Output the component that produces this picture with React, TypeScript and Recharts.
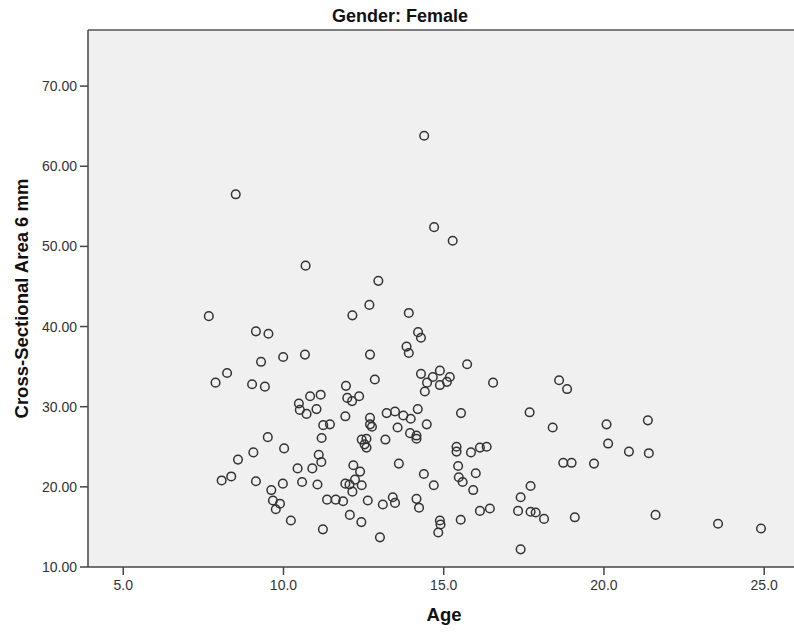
import React from "react";
import {
  ScatterChart,
  Scatter,
  XAxis,
  YAxis,
  CartesianGrid,
  ReferenceLine,
  Label,
} from "recharts";

// values
const ages = [
  8.51, 14.39, 14.7, 15.28, 10.69, 12.96, 7.67, 12.15, 12.68, 13.91,
  9.14, 9.53, 14.2, 14.29, 13.84, 13.91, 9.3, 9.99, 10.67, 12.7,
  15.73, 8.24, 7.88, 9.02, 9.42, 12.85, 11.95, 14.29, 14.66, 14.88,
  15.19, 15.1, 14.88, 14.48, 14.41, 16.54, 18.6, 18.85, 10.83, 11.16,
  11.99, 12.14, 12.36, 10.48, 10.51, 10.72, 11.03, 11.93, 12.7, 12.7,
  12.76, 13.22, 13.48, 11.24, 11.45, 13.74, 13.97, 14.19, 15.54, 17.68,
  14.47, 18.4, 13.56, 13.95, 14.15, 14.15, 9.51, 10.02, 9.06, 8.58,
  11.19, 12.44, 12.59, 12.53, 12.59, 13.18, 13.6, 11.1, 11.18, 10.44,
  10.9, 12.18, 12.39, 12.23, 11.93, 12.06, 12.44, 12.15, 8.07, 8.37,
  9.14, 9.98, 10.58, 11.06, 9.62, 9.67, 9.89, 9.76, 11.36, 11.63,
  11.86, 12.63, 13.1, 13.41, 13.48, 10.23, 12.07, 12.43, 11.23, 13.01,
  15.4, 15.4, 15.85, 16.13, 16.34, 15.45, 18.73, 18.99, 19.69, 14.38,
  14.69, 16.0, 15.47, 15.59, 15.92, 17.71, 17.4, 14.15, 14.23, 16.13,
  16.44, 17.32, 17.71, 17.87, 18.13, 19.09, 14.88, 14.9, 14.83, 15.53,
  17.4, 20.08, 21.37, 20.13, 20.78, 21.4, 21.61, 23.56, 24.9,
];

const areas = [
  56.5, 63.8, 52.4, 50.7, 47.6, 45.7, 41.3, 41.4, 42.7, 41.7,
  39.4, 39.1, 39.3, 38.6, 37.5, 36.7, 35.6, 36.2, 36.5, 36.5,
  35.3, 34.2, 33.0, 32.8, 32.5, 33.4, 32.6, 34.1, 33.7, 34.5,
  33.7, 33.1, 32.7, 33.0, 31.9, 33.0, 33.3, 32.2, 31.3, 31.5,
  31.1, 30.7, 31.3, 30.4, 29.6, 29.1, 29.7, 28.8, 28.6, 27.8,
  27.5, 29.2, 29.4, 27.7, 27.8, 28.9, 28.5, 29.7, 29.2, 29.3,
  27.8, 27.4, 27.4, 26.7, 26.4, 26.0, 26.2, 24.8, 24.3, 23.4,
  26.1, 25.9, 26.0, 25.3, 24.9, 25.9, 22.9, 24.0, 23.1, 22.3,
  22.3, 22.7, 21.9, 20.9, 20.4, 20.3, 20.2, 19.4, 20.8, 21.3,
  20.7, 20.4, 20.6, 20.3, 19.6, 18.3, 17.9, 17.2, 18.4, 18.4,
  18.2, 18.3, 17.8, 18.7, 18.0, 15.8, 16.5, 15.6, 14.7, 13.7,
  25.0, 24.4, 24.3, 24.9, 25.0, 22.6, 23.0, 23.0, 22.9, 21.6,
  20.2, 21.7, 21.2, 20.6, 19.6, 20.1, 18.7, 18.5, 17.4, 17.0,
  17.3, 17.0, 16.9, 16.8, 16.0, 16.2, 15.8, 15.3, 14.3, 15.9,
  12.2, 27.8, 28.3, 25.4, 24.4, 24.2, 16.5, 15.4, 14.8,
];

const xTicks = [5, 10, 15, 20, 25];
const yTicks = [10, 20, 30, 40, 50, 60, 70];

const data = ages.map((age, i) => ({ age, area: areas[i] }));

const font = "'Liberation Sans', Arial, sans-serif";
const axisColor = "#454545";

const Ring = (props: any) => {
  const { cx, cy } = props;
  if (cx == null || cy == null) return null;
  return (
    <circle cx={cx} cy={cy} r={4.3} fill="none" stroke="#333" strokeWidth={1.5} />
  );
};

export default function App() {
  return (
    <div
      style={{
        position: "absolute",
        left: 0,
        top: 0,
        width: 794,
        height: 633,
        background: "#fff",
        fontFamily: font,
      }}
    >
      <div
        style={{
          position: "absolute",
          left: 0,
          width: 800,
          top: 7,
          textAlign: "center",
          fontSize: 18,
          lineHeight: "18px",
          fontWeight: "bold",
          color: "#111",
        }}
      >
        Gender: Female
      </div>
      <ScatterChart
        width={794}
        height={633}
        margin={{ top: 30, right: 0, bottom: 0, left: 0 }}
      >
        <CartesianGrid fill="#f0f0f0" horizontal={false} vertical={false} />
        <XAxis
          type="number"
          dataKey="age"
          domain={[3.9, 25.93]}
          ticks={xTicks}
          allowDataOverflow
          height={66}
          tickSize={8}
          tickMargin={5}
          tickFormatter={(v) => Number(v).toFixed(1)}
          tick={{ fontSize: 14, fill: "#333", fontFamily: font }}
          stroke={axisColor}
          axisLine={{ stroke: axisColor, strokeWidth: 1.5 }}
          tickLine={{ stroke: axisColor, strokeWidth: 1.5 }}
        >
          <Label
            value="Age"
            position="insideBottom"
            offset={12}
            dx={3}
            style={{ fontSize: 18.5, fontWeight: "bold", fill: "#111", fontFamily: font }}
          />
        </XAxis>
        <YAxis
          type="number"
          dataKey="area"
          domain={[10, 77]}
          ticks={yTicks}
          allowDataOverflow
          width={88}
          tickSize={8}
          tickMargin={3}
          tickFormatter={(v) => Number(v).toFixed(2)}
          tick={{ fontSize: 14, fill: "#333", fontFamily: font }}
          stroke={axisColor}
          axisLine={{ stroke: axisColor, strokeWidth: 1.5 }}
          tickLine={{ stroke: axisColor, strokeWidth: 1.5 }}
        >
          <Label
            value="Cross-Sectional Area 6 mm"
            angle={-90}
            position="insideLeft"
            offset={21}
            style={{
              fontSize: 18.5,
              fontWeight: "bold",
              fill: "#111",
              fontFamily: font,
              textAnchor: "middle",
            }}
          />
        </YAxis>
        <ReferenceLine y={77} stroke="#555" strokeWidth={1.5} />
        <Scatter data={data} shape={Ring} isAnimationActive={false} />
      </ScatterChart>
    </div>
  );
}
